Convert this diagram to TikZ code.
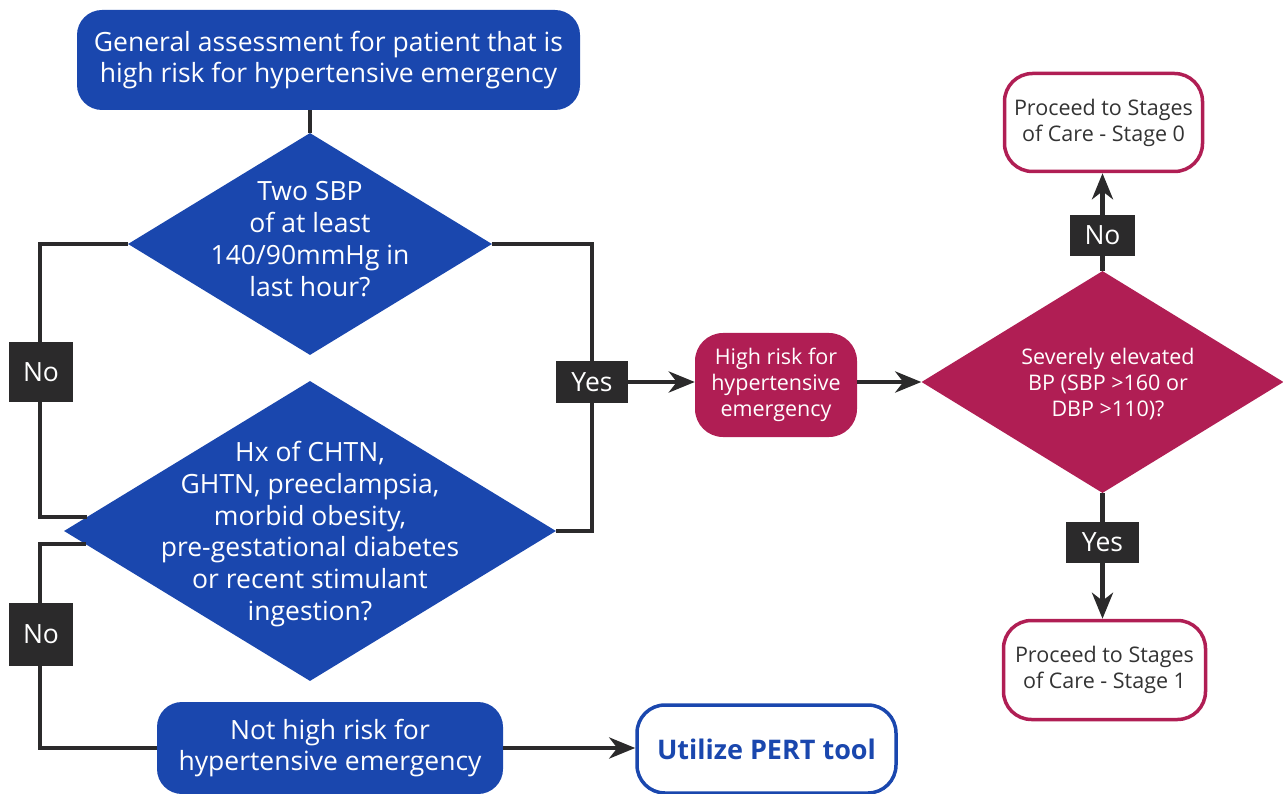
\documentclass[tikz,border=0pt]{standalone}
\usepackage{fontspec}
\setmainfont{Open Sans}
\usetikzlibrary{arrows.meta,shapes.geometric}
\definecolor{cblue}{RGB}{26,71,174}
\definecolor{cmag}{RGB}{176,30,84}
\definecolor{cdark}{RGB}{43,42,43}
\definecolor{cgray}{RGB}{51,51,51}
\begin{document}
\begin{tikzpicture}[x=1pt,y=-1pt,
  conn/.style={draw=cdark,line width=4.5pt},
  arr/.style={conn,-{Stealth[length=26pt,width=21pt,inset=8pt]}},
  bigtxt/.style={font=\fontsize{26.5}{31.8}\selectfont},
  smalltxt/.style={font=\fontsize{21.5}{26}\selectfont},
  bluebox/.style={fill=cblue,rounded corners=25pt,text=white,align=center,inner sep=0pt,bigtxt},
  magbox/.style={fill=cmag,rounded corners=28pt,text=white,align=center,inner sep=0pt,smalltxt},
  outbox/.style={draw=cmag,line width=3.5pt,fill=white,rounded corners=28pt,text=cgray,align=center,inner sep=0pt,smalltxt},
  pertbox/.style={draw=cblue,line width=3.5pt,fill=white,rounded corners=28pt,text=cblue,align=center,inner sep=0pt,font=\fontsize{27}{31}\selectfont\bfseries},
  dia/.style={shape=diamond,inner sep=0pt,draw=none},
  diatxt/.style={text=white,align=center,inner sep=0pt},
  lab/.style={fill=cdark,text=white,inner sep=0pt,font=\fontsize{26.5}{30}\selectfont}
]
\useasboundingbox (0,0) rectangle (1283,794);
% nodes
\node[bluebox,minimum width=503pt,minimum height=100pt] (top) at (328.5,60) {General assessment for patient that is\\high risk for hypertensive emergency};
\node[dia,fill=cblue,minimum width=364pt,minimum height=222pt] (d1) at (310,244) {};
\node[diatxt,bigtxt] (d1t) at (310,239) {Two SBP\\of at least\\140/90mmHg in\\last hour?};
\node[dia,fill=cblue,minimum width=492pt,minimum height=300pt] (d2) at (310,531) {};
\node[diatxt,bigtxt] (d2t) at (310,534) {Hx of CHTN,\\GHTN, preeclampsia,\\morbid obesity,\\pre-gestational diabetes\\or recent stimulant\\ingestion?};
\node[bluebox,minimum width=346pt,minimum height=92pt] (nhr) at (330,748) {Not high risk for\\hypertensive emergency};
\node[pertbox,minimum width=259pt,minimum height=88pt] (pert) at (766.5,749) {Utilize PERT tool};
\node[magbox,minimum width=162pt,minimum height=104pt] (hr) at (776,385) {High risk for\\hypertensive\\emergency};
\node[dia,fill=cmag,minimum width=362pt,minimum height=222pt] (d3) at (1102.5,382) {};
\node[diatxt,smalltxt] (d3t) at (1108,384) {Severely elevated\\BP (SBP >160 or\\DBP >110)?};
\node[outbox,minimum width=198pt,minimum height=98pt] (s0) at (1103.5,122.5) {Proceed to Stages\\of Care - Stage 0};
\node[outbox,minimum width=202pt,minimum height=99pt] (s1) at (1104.5,670) {Proceed to Stages\\of Care - Stage 1};
% connector helper coordinates
\coordinate (l1) at (40,244);
\coordinate (l2) at (40,517);
\coordinate (l2e) at (87,517);
\coordinate (l3s) at (86,544);
\coordinate (l3) at (40,544);
\coordinate (l4) at (40,748);
\coordinate (r1) at (592,244);
\coordinate (r2) at (592,531);
% connectors
\draw[conn] (d1.north |- top.south) -- (d1.north);
\draw[conn] (d1.west) -- (l1) -- (l2) -- (l2e);
\draw[conn] (l3s) -- (l3) -- (l4) -- (nhr.west);
\draw[conn] (d1.east) -- (r1) -- (r2) -- (d2.east);
\draw[arr] (nhr.east) -- (pert.west |- nhr.east);
\draw[arr] (hr.east |- d3.west) -- (d3.west);
% labels
\node[lab,minimum width=64pt,minimum height=60pt] (no1) at (41,372) {No};
\node[lab,minimum width=64pt,minimum height=63pt] (no2) at (41,634.5) {No};
\node[lab,minimum width=72pt,minimum height=42pt] (yes1) at (592,382) {Yes};
\node[lab,minimum width=65pt,minimum height=41pt] (no3) at (1102.5,235.5) {No};
\node[lab,minimum width=73pt,minimum height=41pt] (yes2) at (1102.5,542.5) {Yes};
\draw[arr] (yes1.east) -- (hr.west |- yes1.east);
\draw[arr] (no3.north) -- (s0.south -| no3.north);
\draw[conn] (d3.north) -- (no3.south);
\draw[arr] (yes2.south) -- (s1.north -| yes2.south);
\draw[conn] (d3.south) -- (yes2.north);
\end{tikzpicture}
\end{document}
